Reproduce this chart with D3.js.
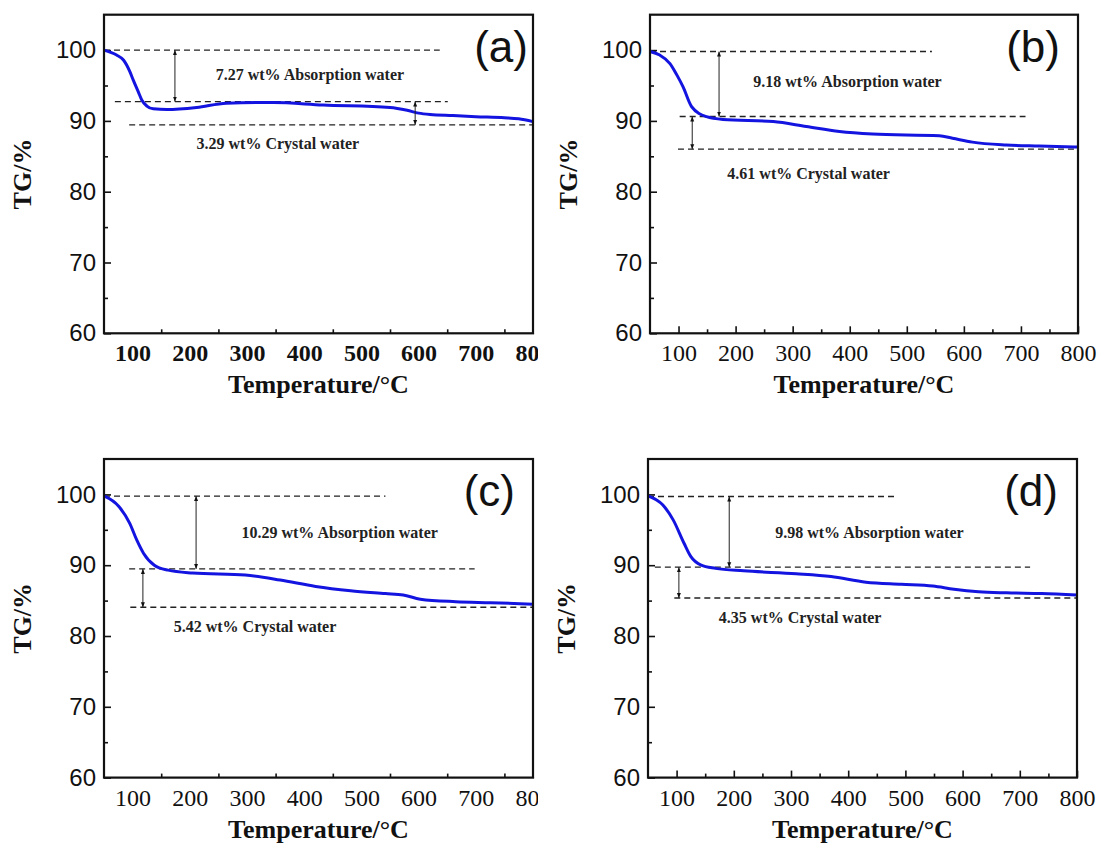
<!DOCTYPE html>
<html>
<head>
<meta charset="utf-8">
<style>
  body { margin: 0; background: #fff; }
  svg { display: block; }
</style>
<script src="https://cdn.jsdelivr.net/npm/d3@7"></script>
</head>
<body>
<svg id="svg" width="1100" height="843"></svg>
<script>
// ---- data ----
var tempA = [50, 72, 84, 95, 101, 110, 116, 125, 136, 160, 212, 264, 346, 433, 550, 580, 600, 620, 660, 700, 750, 775, 800];
var tgA   = [100, 99.3, 98.6, 97.0, 95.8, 94.1, 92.95, 92.1, 91.7, 91.6, 91.9, 92.5, 92.6, 92.25, 91.9, 91.5, 91.1, 90.9, 90.75, 90.6, 90.45, 90.3, 89.9];

var tempB = [50, 67, 85, 97, 108, 123, 149, 178, 266, 324, 382, 440, 557, 580, 615, 674, 732, 800];
var tgB   = [99.8, 99.3, 98.1, 96.5, 94.8, 92.0, 90.6, 90.2, 89.9, 89.2, 88.5, 88.15, 87.9, 87.55, 87.0, 86.6, 86.45, 86.3];

var tempC = [50, 76, 95, 107, 119, 138, 162, 205, 297, 358, 420, 481, 542, 573, 603, 665, 726, 800];
var tgC   = [99.8, 98.3, 95.9, 93.6, 91.7, 90.0, 89.3, 88.9, 88.6, 87.9, 87.0, 86.4, 86.0, 85.8, 85.2, 84.85, 84.7, 84.5];

var tempD = [50, 76, 94, 113, 125, 143, 168, 217, 309, 370, 431, 493, 548, 585, 628, 677, 738, 800];
var tgD   = [99.8, 98.5, 96.4, 93.1, 91.2, 90.0, 89.55, 89.2, 88.8, 88.4, 87.6, 87.3, 87.05, 86.6, 86.25, 86.1, 86.0, 85.8];

// dashed levels: [TG, from T, to T]
var dashA = [[100, 50, 637], [92.73, 69, 651], [89.44, 94, 800]];
var dashB = [[99.8, 50, 544], [90.62, 102, 708], [86.01, 99, 800]];
var dashC = [[99.77, 50, 542], [89.48, 94, 698], [84.06, 96, 800]];
var dashD = [[99.7, 50, 487], [89.72, 62, 718], [85.37, 96, 800]];

// double arrows: [T, from TG, to TG]
var arrowA = [[174, 100, 92.73], [594, 92.73, 89.44]];
var arrowB = [[171, 99.8, 90.62], [124, 90.62, 86.01]];
var arrowC = [[211, 99.77, 89.48], [118, 89.48, 84.06]];
var arrowD = [[192, 99.7, 89.72], [104, 89.72, 85.37]];

// notes: [T, TG, text]
var noteA = [[410, 95.8, "7.27 wt% Absorption water"], [354, 86.0, "3.29 wt% Crystal water"]];
var noteB = [[396, 94.75, "9.18 wt% Absorption water"], [328, 81.75, "4.61 wt% Crystal water"]];
var noteC = [[462, 93.8, "10.29 wt% Absorption water"], [314, 80.5, "5.42 wt% Crystal water"]];
var noteD = [[437, 93.8, "9.98 wt% Absorption water"], [316, 81.8, "4.35 wt% Crystal water"]];

var xMajor = [100, 200, 300, 400, 500, 600, 700, 800];
var xMinor = [150, 250, 350, 450, 550, 650, 750];
var yMajor = [60, 70, 80, 90, 100];
var yMinor = [65, 75, 85, 95];

var panels = [
  {name:"(a)", t:tempA, g:tgA, dash:dashA, arrow:arrowA, note:noteA, left:104, right:533, top:14.7, bottom:333.3, bold:true, clip:true, lab:5},
  {name:"(b)", t:tempB, g:tgB, dash:dashB, arrow:arrowB, note:noteB, left:650, right:1078, top:14.7, bottom:333.3, bold:false, clip:false, lab:18},
  {name:"(c)", t:tempC, g:tgC, dash:dashC, arrow:arrowC, note:noteC, left:104, right:533, top:459, bottom:777.6, bold:false, clip:true, lab:18},
  {name:"(d)", t:tempD, g:tgD, dash:dashD, arrow:arrowD, note:noteD, left:648, right:1077, top:459, bottom:777.6, bold:false, clip:false, lab:19}
];

var svg = d3.select("#svg");
var defs = svg.append("defs");

defs.append("marker").attr("id", "ah")
  .attr("viewBox", "0 0 10 10").attr("refX", 10).attr("refY", 5)
  .attr("markerWidth", 5).attr("markerHeight", 5).attr("orient", "auto-start-reverse")
  .attr("markerUnits", "userSpaceOnUse")
  .append("path").attr("d", "M0,1L10,5L0,9Z").attr("fill", "#111");

// the original figure is cropped just right of the left panels
defs.append("clipPath").attr("id", "cropLeft")
  .append("rect").attr("x", 0).attr("y", 0).attr("width", 538).attr("height", 843);

panels.forEach(drawPanel);

function drawPanel(p){
  var x = d3.scaleLinear().domain([50, 800]).range([p.left, p.right]);
  var y = d3.scaleLinear().domain([60, 105]).range([p.bottom, p.top]);
  var g = svg.append("g");

  // x axis, ticks pointing inward
  var xa = g.append("g").attr("transform", "translate(0," + p.bottom + ")")
    .call(d3.axisBottom(x).tickValues(xMajor).tickSize(-7).tickPadding(11).tickFormat(d3.format("d")));
  xa.selectAll("text")
    .style("font-family", "'Liberation Serif', 'Times New Roman', serif")
    .style("font-size", "24px")
    .style("font-weight", p.bold ? "bold" : "normal")
    .attr("fill", "#111");
  if (p.clip) xa.attr("clip-path", "url(#cropLeft)");
  g.append("g").attr("transform", "translate(0," + p.bottom + ")")
    .call(d3.axisBottom(x).tickValues(xMinor).tickSize(-4).tickFormat(""));

  var ya = g.append("g").attr("transform", "translate(" + p.left + ",0)")
    .call(d3.axisLeft(y).tickValues(yMajor).tickSize(-7).tickPadding(8));
  ya.selectAll("text")
    .style("font-family", "'Liberation Sans', Arial, sans-serif")
    .style("font-size", "24px")
    .attr("fill", "#111");
  g.append("g").attr("transform", "translate(" + p.left + ",0)")
    .call(d3.axisLeft(y).tickValues(yMinor).tickSize(-4).tickFormat(""));

  g.selectAll(".domain").remove();
  g.selectAll(".tick line").attr("stroke", "#111").attr("stroke-width", 1.6);

  // dashed reference levels
  g.selectAll(".lvl").data(p.dash).enter().append("line")
    .attr("x1", function(d){ return x(d[1]); })
    .attr("x2", function(d){ return x(d[2]); })
    .attr("y1", function(d){ return y(d[0]); })
    .attr("y2", function(d){ return y(d[0]); })
    .attr("stroke", "#222").attr("stroke-width", 1.3)
    .attr("stroke-dasharray", "6,4");

  // TG curve
  var line = d3.line()
    .x(function(d, i){ return x(p.t[i]); })
    .y(function(d){ return y(d); })
    .curve(d3.curveMonotoneX);
  g.append("path").datum(p.g)
    .attr("d", line)
    .attr("fill", "none")
    .attr("stroke", "#1414e0")
    .attr("stroke-width", 3);

  // double arrows
  g.selectAll(".arr").data(p.arrow).enter().append("line")
    .attr("x1", function(d){ return x(d[0]); })
    .attr("x2", function(d){ return x(d[0]); })
    .attr("y1", function(d){ return y(d[1]); })
    .attr("y2", function(d){ return y(d[2]); })
    .attr("stroke", "#222").attr("stroke-width", 1)
    .attr("marker-start", "url(#ah)")
    .attr("marker-end", "url(#ah)");

  g.selectAll(".note").data(p.note).enter().append("text")
    .attr("x", function(d){ return x(d[0]); })
    .attr("y", function(d){ return y(d[1]); })
    .attr("text-anchor", "middle")
    .style("font-family", "'Liberation Serif', 'Times New Roman', serif")
    .style("font-size", "16px")
    .style("font-weight", "bold")
    .attr("fill", "#222")
    .text(function(d){ return d[2]; });

  // frame
  g.append("rect")
    .attr("x", p.left).attr("y", p.top)
    .attr("width", p.right - p.left).attr("height", p.bottom - p.top)
    .attr("fill", "none").attr("stroke", "#111").attr("stroke-width", 2.2);

  // panel letter
  g.append("text")
    .attr("x", p.right - p.lab).attr("y", p.top + 47)
    .attr("text-anchor", "end")
    .style("font-family", "'Liberation Sans', Arial, sans-serif")
    .style("font-size", "44px")
    .attr("fill", "#111")
    .text(p.name);

  // axis titles
  g.append("text")
    .attr("transform", "translate(" + (p.left - 82) + "," + ((p.top + p.bottom) / 2) + ") rotate(-90)")
    .attr("dy", "0.33em")
    .attr("text-anchor", "middle")
    .style("font-family", "'Liberation Serif', 'Times New Roman', serif")
    .style("font-size", "26px")
    .style("font-weight", "bold")
    .attr("fill", "#111")
    .text("TG/%");

  g.append("text")
    .attr("x", (p.left + p.right) / 2).attr("y", p.bottom + 60)
    .attr("text-anchor", "middle")
    .style("font-family", "'Liberation Serif', 'Times New Roman', serif")
    .style("font-size", "26px")
    .style("font-weight", "bold")
    .attr("fill", "#111")
    .text("Temperature/\u00B0C");
}
</script>
</body>
</html>
